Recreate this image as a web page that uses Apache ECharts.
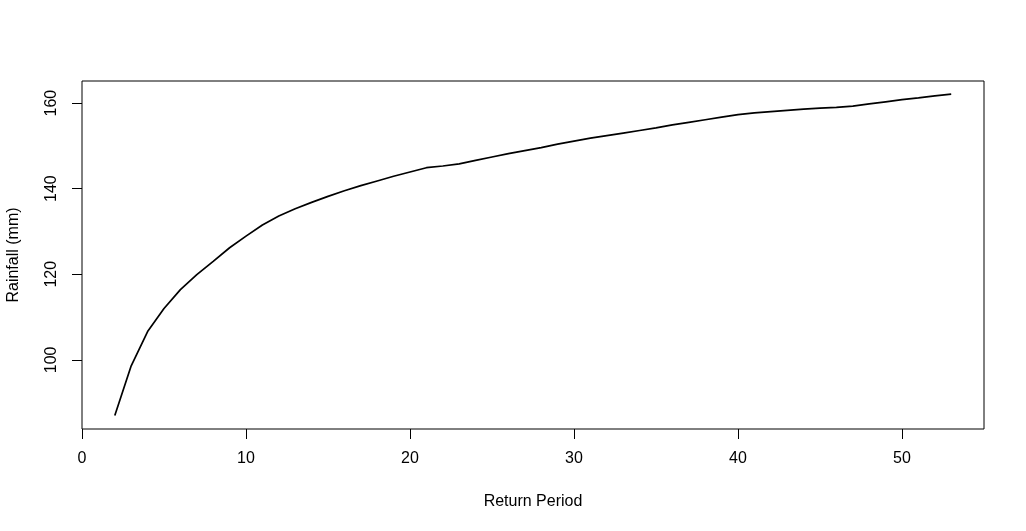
<!DOCTYPE html>
<html>
<head>
<meta charset="utf-8">
<script src="https://cdn.jsdelivr.net/npm/echarts@6/dist/echarts.min.js"></script>
<style>
  html, body { margin: 0; padding: 0; background: #fff; }
  #chart { width: 1026px; height: 531px; }
</style>
</head>
<body>
<div id="chart"></div>
<script>
let returnPeriod = [2, 3, 4, 5, 6, 7, 8, 9, 10, 11, 12, 13, 14, 15, 16, 17, 18, 19, 20, 21, 22, 23, 24, 25, 26, 27,
  28, 29, 30, 31, 32, 33, 34, 35, 36, 37, 38, 39, 40, 41, 42, 43, 44, 45, 46, 47, 48, 49, 50, 51, 52, 53];
let rainfall = [87.0, 98.6, 106.6, 112.0, 116.4, 119.9, 123.0, 126.2, 128.9, 131.5, 133.6, 135.3, 136.8, 138.2,
  139.5, 140.7, 141.8, 142.9, 143.9, 144.9, 145.3, 145.8, 146.6, 147.4, 148.2, 148.9, 149.6, 150.4, 151.1,
  151.8, 152.4, 153.0, 153.6, 154.2, 154.9, 155.5, 156.1, 156.7, 157.3, 157.7, 158.0, 158.3, 158.6, 158.8,
  159.0, 159.3, 159.8, 160.3, 160.8, 161.2, 161.7, 162.1];
let xTicks = [0, 10, 20, 30, 40, 50];
let yTicks = [100, 120, 140, 160];

let chart = echarts.init(document.getElementById('chart'));

let font = 'Liberation Sans, Arial, sans-serif';

let options = {
  animation: false,
  backgroundColor: '#fff',
  grid: {
    left: 82,
    right: 42,
    top: 81,
    bottom: 102,
    outerBoundsMode: 'none',
    show: true,
    borderColor: '#000',
    borderWidth: 1
  },
  xAxis: {
    type: 'value',
    min: 0,
    max: 55,
    name: 'Return Period',
    nameLocation: 'middle',
    nameGap: 65,
    nameTextStyle: { color: '#000', fontSize: 16, fontFamily: font },
    axisLine: { show: false },
    axisTick: { show: true, length: 10, lineStyle: { color: '#000' }, customValues: xTicks },
    axisLabel: { color: '#000', fontSize: 16, fontFamily: font, margin: 22, customValues: xTicks },
    splitLine: { show: false }
  },
  yAxis: {
    type: 'value',
    min: 83.84,
    max: 165.16,
    name: 'Rainfall (mm)',
    nameLocation: 'middle',
    nameGap: 60,
    nameTextStyle: { color: '#000', fontSize: 16, fontFamily: font },
    axisLine: { show: false },
    axisTick: { show: true, length: 10, lineStyle: { color: '#000' }, customValues: yTicks },
    axisLabel: { color: '#000', fontSize: 16, fontFamily: font, margin: 22, rotate: 90, customValues: yTicks },
    splitLine: { show: false }
  },
  series: [
    {
      type: 'line',
      data: returnPeriod.map((t, i) => [t, rainfall[i]]),
      showSymbol: false,
      lineStyle: { color: '#000', width: 1.7 }
    }
  ]
};

chart.setOption(options);
</script>
</body>
</html>
